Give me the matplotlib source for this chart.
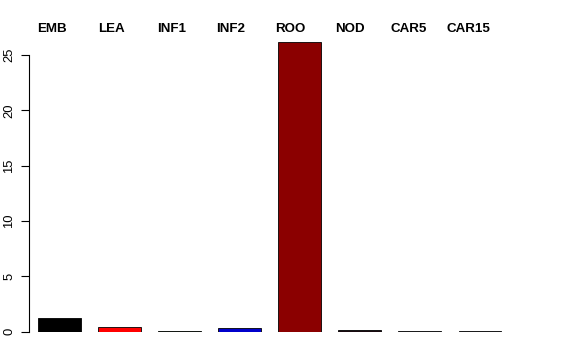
import matplotlib
matplotlib.use("Agg")
import matplotlib.pyplot as plt
import numpy as np

categories = ["EMB", "LEA", "INF1", "INF2", "ROO", "NOD", "CAR5", "CAR15"]
values = [1.2, 0.45, 0.08, 0.32, 26.2, 0.12, 0.03, 0.03]
colors = ["#000000", "#FF0000", "#003300", "#0000CC", "#8B0000", "#1a0a10", "#555566", "#555566"]
yticks = [0, 5, 10, 15, 20, 25]

plt.rcParams['font.family'] = ['Liberation Sans', 'DejaVu Sans']

fig = plt.figure(figsize=(5.76, 3.6), dpi=100)
left_px, right_px = 29, 510
bottom_px = 331.5
ppu = 11.06
ytop = 28.0
ax = fig.add_axes([left_px / 576, (360 - bottom_px) / 360,
                   (right_px - left_px) / 576, ytop * ppu / 360])

x = np.arange(len(categories))
ax.bar(x, values, width=0.714, color=colors, edgecolor="black", linewidth=0.6)
ax.set_xlim(-0.508, 7.5)
ax.set_ylim(0, ytop)

for s in ["top", "right", "bottom"]:
    ax.spines[s].set_visible(False)
ax.spines["left"].set_bounds(0, 25)
ax.spines["left"].set_linewidth(0.8)
ax.set_xticks([])
ax.set_yticks(yticks)
ax.set_yticklabels([str(t) for t in yticks], rotation=90, va="center", fontsize=9.4)
ax.tick_params(axis="y", length=6, width=0.8, pad=4)

trans = matplotlib.transforms.blended_transform_factory(ax.transData, fig.transFigure)
for i, c in enumerate(categories):
    ax.text(i - 0.12 - 0.01 * i, (360 - 29) / 360, c, transform=trans,
            ha="center", va="center", fontsize=9.6, fontweight="bold")

fig.savefig("out.png", dpi=100)
